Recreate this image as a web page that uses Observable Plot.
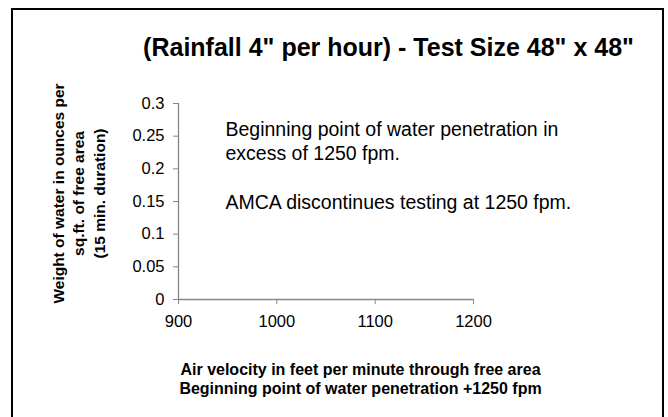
<!DOCTYPE html>
<html>
<head>
<meta charset="utf-8">
<script src="https://cdn.jsdelivr.net/npm/d3@7"></script>
<script src="https://cdn.jsdelivr.net/npm/@observablehq/plot@0.6"></script>
<style>
  body { margin: 0; background: #fff; }
  #wrap { position: relative; width: 668px; height: 417px; overflow: hidden; background: #fff; }
  #border { position: absolute; left: 11px; top: 8px; width: 653px; height: 430px; border: 2px solid #000; box-sizing: border-box; }
  #wrap svg { position: absolute; left: 0; top: 0; }
</style>
</head>
<body>
<div id="wrap"><div id="border"></div></div>
<script>
// ---- data ----
const chartTitle = "(Rainfall 4\" per hour) - Test Size 48\" x 48\"";
const yLabelLines = ["Weight of water in ounces per", "sq.ft. of free area", "(15 min. duration)"];
const xLabelLines = ["Air velocity in feet per minute through free area", "Beginning point of water penetration +1250 fpm"];
const xTicks = [900, 1000, 1100, 1200];
const xTickLabels = ["900", "1000", "1100", "1200"];
const yTicks = [0, 0.05, 0.1, 0.15, 0.2, 0.25, 0.3];
const yTickLabels = ["0", "0.05", "0.1", "0.15", "0.2", "0.25", "0.3"];
const noteLines = ["Beginning point of water penetration in", "excess of 1250 fpm.", "", "AMCA discontinues testing at 1250 fpm."];

const font = "'Liberation Sans', Arial, Helvetica, sans-serif";
const axisGray = "#868686";

const plot = Plot.plot({
  width: 668,
  height: 417,
  marginLeft: 178,
  marginRight: 195,
  marginTop: 103,
  marginBottom: 118,
  style: { fontFamily: font, background: "transparent", overflow: "visible" },
  x: { domain: [900, 1200] },
  y: { domain: [0, 0.3] },
  marks: [
    Plot.ruleX([900], { stroke: axisGray, strokeWidth: 1.3 }),
    Plot.ruleY([0], { stroke: axisGray, strokeWidth: 1.3 }),
    Plot.axisX({ ticks: xTicks, tickFormat: d => xTickLabels[xTicks.indexOf(d)], tickSize: 5, tickPadding: 11, stroke: axisGray, fill: "#000", fontSize: 16.5, label: null }),
    Plot.axisY({ ticks: yTicks, tickFormat: d => yTickLabels[yTicks.indexOf(d)], tickSize: 5, tickPadding: 9, stroke: axisGray, fill: "#000", fontSize: 16.5, label: null }),
    Plot.text([chartTitle], { frameAnchor: "top-left", dx: 210, dy: -56, text: d => d, textAnchor: "middle", lineAnchor: "middle", fontSize: 25, fontWeight: "bold", fill: "#000" }),
    Plot.text([yLabelLines.join("\n")], { frameAnchor: "left", dx: -101, dy: -8, text: d => d, rotate: -90, textAnchor: "middle", lineAnchor: "middle", lineHeight: 1.32, fontSize: 15.5, fontWeight: "bold", fill: "#000" }),
    Plot.text([xLabelLines.join("\n")], { frameAnchor: "bottom-left", dx: 182, dy: 79, text: d => d, textAnchor: "middle", lineAnchor: "middle", lineHeight: 1.15, fontSize: 16, fontWeight: "bold", fill: "#000" }),
    Plot.text([noteLines.join("\n")], { frameAnchor: "top-left", dx: 47, dy: 15, text: d => d, textAnchor: "start", lineAnchor: "top", lineHeight: 1.25, fontSize: 19.5, fill: "#000" })
  ]
});
document.getElementById("wrap").appendChild(plot);
</script>
</body>
</html>
